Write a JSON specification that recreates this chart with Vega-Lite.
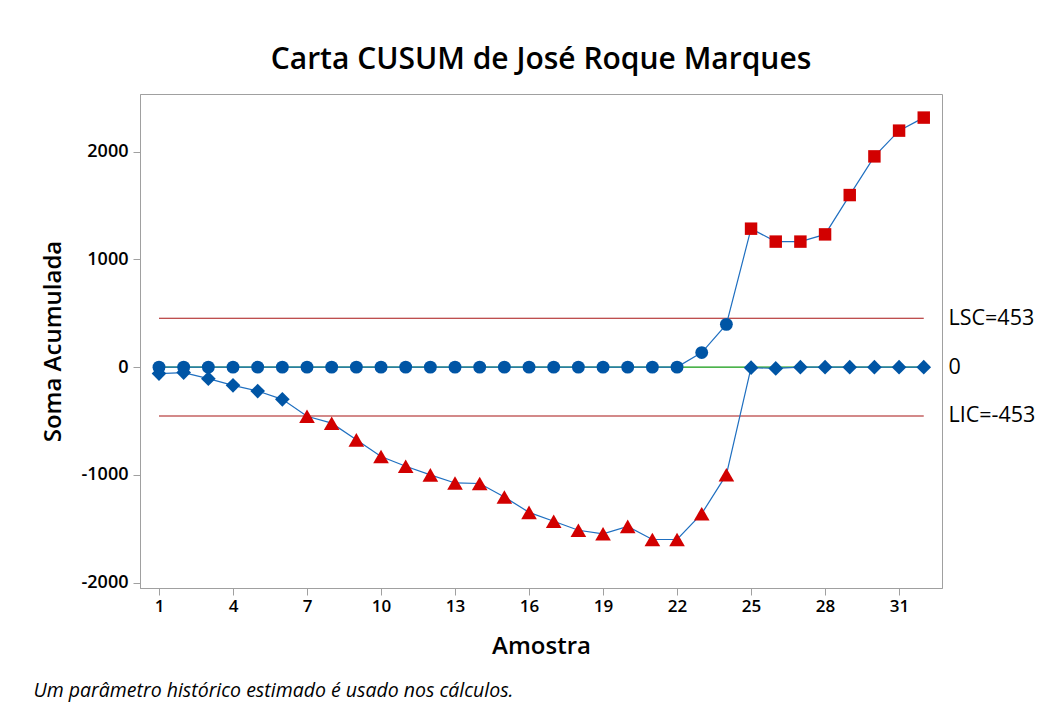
{
  "$schema": "https://vega.github.io/schema/vega-lite/v6.json",
  "width": 802,
  "height": 494,
  "autosize": {"type": "none"},
  "padding": {"left": 140, "top": 94, "right": 113, "bottom": 123},
  "background": "white",
  "title": {
    "text": "Carta CUSUM de José Roque Marques",
    "font": "Open Sans",
    "fontSize": 30,
    "fontWeight": 600,
    "color": "black",
    "anchor": "middle",
    "offset": 19
  },
  "config": {
    "view": {"stroke": "#A0A0A0", "strokeWidth": 1},
    "font": "Open Sans"
  },
  "datasets": {
    "cusum": [
      {"amostra": 1, "serie": "Superior", "soma": 0, "tipo": "Superior"},
      {"amostra": 2, "serie": "Superior", "soma": 0, "tipo": "Superior"},
      {"amostra": 3, "serie": "Superior", "soma": 0, "tipo": "Superior"},
      {"amostra": 4, "serie": "Superior", "soma": 0, "tipo": "Superior"},
      {"amostra": 5, "serie": "Superior", "soma": 0, "tipo": "Superior"},
      {"amostra": 6, "serie": "Superior", "soma": 0, "tipo": "Superior"},
      {"amostra": 7, "serie": "Superior", "soma": 0, "tipo": "Superior"},
      {"amostra": 8, "serie": "Superior", "soma": 0, "tipo": "Superior"},
      {"amostra": 9, "serie": "Superior", "soma": 0, "tipo": "Superior"},
      {"amostra": 10, "serie": "Superior", "soma": 0, "tipo": "Superior"},
      {"amostra": 11, "serie": "Superior", "soma": 0, "tipo": "Superior"},
      {"amostra": 12, "serie": "Superior", "soma": 0, "tipo": "Superior"},
      {"amostra": 13, "serie": "Superior", "soma": 0, "tipo": "Superior"},
      {"amostra": 14, "serie": "Superior", "soma": 0, "tipo": "Superior"},
      {"amostra": 15, "serie": "Superior", "soma": 0, "tipo": "Superior"},
      {"amostra": 16, "serie": "Superior", "soma": 0, "tipo": "Superior"},
      {"amostra": 17, "serie": "Superior", "soma": 0, "tipo": "Superior"},
      {"amostra": 18, "serie": "Superior", "soma": 0, "tipo": "Superior"},
      {"amostra": 19, "serie": "Superior", "soma": 0, "tipo": "Superior"},
      {"amostra": 20, "serie": "Superior", "soma": 0, "tipo": "Superior"},
      {"amostra": 21, "serie": "Superior", "soma": 0, "tipo": "Superior"},
      {"amostra": 22, "serie": "Superior", "soma": 0, "tipo": "Superior"},
      {"amostra": 23, "serie": "Superior", "soma": 135, "tipo": "Superior"},
      {"amostra": 24, "serie": "Superior", "soma": 397, "tipo": "Superior"},
      {"amostra": 25, "serie": "Superior", "soma": 1285, "tipo": "Superior fora"},
      {"amostra": 26, "serie": "Superior", "soma": 1165, "tipo": "Superior fora"},
      {"amostra": 27, "serie": "Superior", "soma": 1165, "tipo": "Superior fora"},
      {"amostra": 28, "serie": "Superior", "soma": 1232, "tipo": "Superior fora"},
      {"amostra": 29, "serie": "Superior", "soma": 1597, "tipo": "Superior fora"},
      {"amostra": 30, "serie": "Superior", "soma": 1956, "tipo": "Superior fora"},
      {"amostra": 31, "serie": "Superior", "soma": 2195, "tipo": "Superior fora"},
      {"amostra": 32, "serie": "Superior", "soma": 2316, "tipo": "Superior fora"},
      {"amostra": 1, "serie": "Inferior", "soma": -60, "tipo": "Inferior"},
      {"amostra": 2, "serie": "Inferior", "soma": -51, "tipo": "Inferior"},
      {"amostra": 3, "serie": "Inferior", "soma": -107, "tipo": "Inferior"},
      {"amostra": 4, "serie": "Inferior", "soma": -169, "tipo": "Inferior"},
      {"amostra": 5, "serie": "Inferior", "soma": -222, "tipo": "Inferior"},
      {"amostra": 6, "serie": "Inferior", "soma": -299, "tipo": "Inferior"},
      {"amostra": 7, "serie": "Inferior", "soma": -456, "tipo": "Inferior fora"},
      {"amostra": 8, "serie": "Inferior", "soma": -520, "tipo": "Inferior fora"},
      {"amostra": 9, "serie": "Inferior", "soma": -675, "tipo": "Inferior fora"},
      {"amostra": 10, "serie": "Inferior", "soma": -830, "tipo": "Inferior fora"},
      {"amostra": 11, "serie": "Inferior", "soma": -920, "tipo": "Inferior fora"},
      {"amostra": 12, "serie": "Inferior", "soma": -1000, "tipo": "Inferior fora"},
      {"amostra": 13, "serie": "Inferior", "soma": -1075, "tipo": "Inferior fora"},
      {"amostra": 14, "serie": "Inferior", "soma": -1080, "tipo": "Inferior fora"},
      {"amostra": 15, "serie": "Inferior", "soma": -1205, "tipo": "Inferior fora"},
      {"amostra": 16, "serie": "Inferior", "soma": -1348, "tipo": "Inferior fora"},
      {"amostra": 17, "serie": "Inferior", "soma": -1430, "tipo": "Inferior fora"},
      {"amostra": 18, "serie": "Inferior", "soma": -1514, "tipo": "Inferior fora"},
      {"amostra": 19, "serie": "Inferior", "soma": -1547, "tipo": "Inferior fora"},
      {"amostra": 20, "serie": "Inferior", "soma": -1478, "tipo": "Inferior fora"},
      {"amostra": 21, "serie": "Inferior", "soma": -1600, "tipo": "Inferior fora"},
      {"amostra": 22, "serie": "Inferior", "soma": -1600, "tipo": "Inferior fora"},
      {"amostra": 23, "serie": "Inferior", "soma": -1360, "tipo": "Inferior fora"},
      {"amostra": 24, "serie": "Inferior", "soma": -998, "tipo": "Inferior fora"},
      {"amostra": 25, "serie": "Inferior", "soma": -5, "tipo": "Inferior"},
      {"amostra": 26, "serie": "Inferior", "soma": -12, "tipo": "Inferior"},
      {"amostra": 27, "serie": "Inferior", "soma": 0, "tipo": "Inferior"},
      {"amostra": 28, "serie": "Inferior", "soma": 0, "tipo": "Inferior"},
      {"amostra": 29, "serie": "Inferior", "soma": 0, "tipo": "Inferior"},
      {"amostra": 30, "serie": "Inferior", "soma": 0, "tipo": "Inferior"},
      {"amostra": 31, "serie": "Inferior", "soma": 0, "tipo": "Inferior"},
      {"amostra": 32, "serie": "Inferior", "soma": 0, "tipo": "Inferior"}
    ],
    "limites": [
      {"limite": "LSC", "valor": 453},
      {"limite": "Centro", "valor": 0},
      {"limite": "LIC", "valor": -453}
    ]
  },
  "resolve": {
    "axis": {"x": "independent", "y": "independent"},
    "scale": {"color": "independent"}
  },
  "layer": [
    {
      "data": {"name": "limites"},
      "mark": {"type": "rule", "strokeWidth": 1.1},
      "encoding": {
        "x": {
          "datum": 1,
          "type": "quantitative",
          "scale": {"domain": [0.23, 32.74], "nice": false, "zero": false},
          "axis": {
            "orient": "bottom",
            "title": "Um parâmetro histórico estimado é usado nos cálculos.",
            "labels": false,
            "ticks": false,
            "domain": false,
            "grid": false,
            "titleFont": "Open Sans",
            "titleFontStyle": "italic",
            "titleFontWeight": "normal",
            "titleFontSize": 19.5,
            "titleColor": "black",
            "titleAnchor": "start",
            "titleAlign": "left",
            "titleBaseline": "alphabetic",
            "titleX": -107,
            "titleY": 108
          }
        },
        "x2": {"datum": 32},
        "y": {
          "field": "valor",
          "type": "quantitative",
          "scale": {"domain": [-2050, 2535], "nice": false, "zero": false},
          "axis": {
            "orient": "right",
            "values": [453, 0, -453],
            "labelExpr": "datum.value == 453 ? 'LSC=453' : (datum.value == -453 ? 'LIC=-453' : '0')",
            "ticks": false,
            "domain": false,
            "grid": false,
            "title": null,
            "labelFont": "Open Sans",
            "labelFontSize": 21.5,
            "labelFontWeight": "normal",
            "labelColor": "black",
            "labelPadding": 6
          }
        },
        "color": {
          "field": "limite",
          "type": "nominal",
          "scale": {"domain": ["LSC", "Centro", "LIC"], "range": ["#A81414", "#109A10", "#A81414"]},
          "legend": null
        }
      }
    },
    {
      "data": {"name": "cusum"},
      "mark": {"type": "line", "color": "#1F6FC0", "strokeWidth": 1.2},
      "encoding": {
        "x": {
          "field": "amostra",
          "type": "quantitative",
          "axis": {
            "orient": "bottom",
            "values": [1, 4, 7, 10, 13, 16, 19, 22, 25, 28, 31],
            "title": "Amostra",
            "grid": false,
            "domainColor": "#A0A0A0",
            "tickColor": "#A0A0A0",
            "tickSize": 7,
            "labelFont": "Open Sans",
            "labelFontSize": 17,
            "labelFontWeight": 600,
            "labelColor": "black",
            "labelPadding": 3,
            "titleFont": "Open Sans",
            "titleFontSize": 24,
            "titleFontWeight": 600,
            "titleColor": "black",
            "titlePadding": 20
          }
        },
        "y": {
          "field": "soma",
          "type": "quantitative",
          "axis": {
            "orient": "left",
            "values": [-2000, -1000, 0, 1000, 2000],
            "labelExpr": "'' + datum.value",
            "title": "Soma Acumulada",
            "grid": false,
            "domainColor": "#A0A0A0",
            "tickColor": "#A0A0A0",
            "tickSize": 7,
            "labelFont": "Open Sans",
            "labelFontSize": 18,
            "labelFontWeight": 600,
            "labelColor": "black",
            "labelPadding": 5,
            "titleFont": "Open Sans",
            "titleFontSize": 24,
            "titleFontWeight": 600,
            "titleColor": "black",
            "titlePadding": 16
          }
        },
        "detail": {"field": "serie"}
      }
    },
    {
      "data": {"name": "cusum"},
      "transform": [{"filter": "datum.tipo == 'Superior'"}],
      "mark": {"type": "point", "filled": true, "opacity": 1, "shape": "circle", "size": 165, "color": "#0055A5"},
      "encoding": {
        "x": {"field": "amostra", "type": "quantitative", "axis": null},
        "y": {"field": "soma", "type": "quantitative", "axis": null}
      }
    },
    {
      "data": {"name": "cusum"},
      "transform": [{"filter": "datum.tipo == 'Superior fora'"}],
      "mark": {"type": "point", "filled": true, "opacity": 1, "shape": "square", "size": 155, "color": "#D20000"},
      "encoding": {
        "x": {"field": "amostra", "type": "quantitative", "axis": null},
        "y": {"field": "soma", "type": "quantitative", "axis": null}
      }
    },
    {
      "data": {"name": "cusum"},
      "transform": [{"filter": "datum.tipo == 'Inferior'"}],
      "mark": {"type": "point", "filled": true, "opacity": 1, "shape": "diamond", "size": 215, "color": "#0055A5"},
      "encoding": {
        "x": {"field": "amostra", "type": "quantitative", "axis": null},
        "y": {"field": "soma", "type": "quantitative", "axis": null}
      }
    },
    {
      "data": {"name": "cusum"},
      "transform": [{"filter": "datum.tipo == 'Inferior fora'"}],
      "mark": {"type": "point", "filled": true, "opacity": 1, "shape": "triangle-up", "size": 245, "color": "#D20000"},
      "encoding": {
        "x": {"field": "amostra", "type": "quantitative", "axis": null},
        "y": {"field": "soma", "type": "quantitative", "axis": null}
      }
    }
  ]
}
